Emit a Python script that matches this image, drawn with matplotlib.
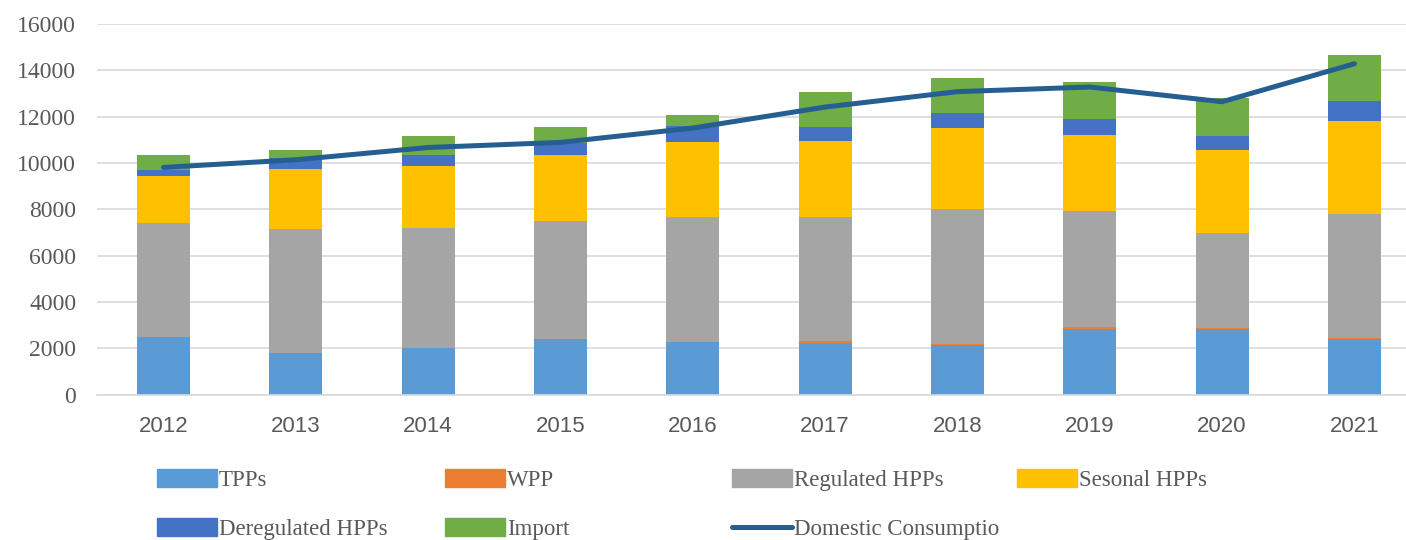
import numpy as np
import matplotlib.pyplot as plt
from matplotlib.patches import Patch
from matplotlib.lines import Line2D

years = ['2012', '2013', '2014', '2015', '2016', '2017', '2018', '2019', '2020', '2021']
tpps = [2480, 1790, 2030, 2390, 2260, 2250, 2130, 2850, 2820, 2390]
wpp = [0, 0, 0, 0, 0, 80, 70, 75, 70, 70]
regulated = [4925, 5380, 5170, 5125, 5400, 5360, 5820, 5000, 4105, 5330]
seasonal = [2045, 2580, 2690, 2825, 3255, 3270, 3470, 3295, 3560, 4030]
deregulated = [260, 450, 475, 520, 680, 590, 665, 660, 605, 835]
imports = [620, 360, 810, 690, 470, 1495, 1510, 1630, 1625, 2020]
consumption = [9810, 10140, 10670, 10890, 11510, 12415, 13080, 13280, 12645, 14285]

names = ['TPPs', 'WPP', 'Regulated HPPs', 'Sesonal HPPs', 'Deregulated HPPs', 'Import']
colors = ['#5B9BD5', '#ED7D31', '#A5A5A5', '#FFC000', '#4472C4', '#70AD47']
line_color = '#255E91'

fig = plt.figure(figsize=(14.06, 5.4), dpi=100)
ax = fig.add_axes([97/1406, 1-394.7/540, 1-97/1406, (394.7-24)/540])

x = np.arange(len(years))
bottom = np.zeros(len(years))
series = [tpps, wpp, regulated, seasonal, deregulated, imports]
for vals, c in zip(series, colors):
    ax.bar(x, vals, 0.4, bottom=bottom, color=c, zorder=2)
    bottom += np.array(vals)

ax.plot(x, consumption, color=line_color, lw=3.6, solid_capstyle='round', zorder=3)

ax.set_ylim(0, 16000)
ax.set_yticks(np.arange(0, 16001, 2000))
ax.set_xlim(-0.503, 9.39)
ax.set_xticks(x)
ax.set_xticklabels(years, family='Liberation Sans', fontsize=16, color='#595959')
for lab in ax.get_yticklabels():
    lab.set_family('Liberation Serif')
    lab.set_fontsize(17)
    lab.set_color('#595959')
ax.tick_params(axis='y', length=0, pad=15)
ax.tick_params(axis='x', length=0, pad=15)
ax.grid(axis='y', color='#D9D9D9', lw=1.2, zorder=0)
for s in ['top', 'right', 'left']:
    ax.spines[s].set_visible(False)
ax.spines['bottom'].set_color('#D9D9D9')
ax.spines['bottom'].set_linewidth(1.2)

# legend, one column at a time so the columns sit where they do in the original
handles = [Patch(color=c) for c in colors]
handles.append(Line2D([], [], color=line_color, lw=3.6, solid_capstyle='round'))
labels = names + ['Domestic Consumptio']
cols = [[0, 4], [1, 5], [2, 6], [3]]
col_x = [157, 445, 732, 1017]
for idx, cx in zip(cols, col_x):
    fig.legend([handles[i] for i in idx], [labels[i] for i in idx],
               loc='upper left', bbox_to_anchor=(cx/1406, 1-469/540),
               frameon=False, borderpad=0, borderaxespad=0,
               handlelength=2.6, handleheight=0.8, handletextpad=0.1,
               labelspacing=1.2,
               prop={'family': 'Liberation Serif', 'size': 16.5}, labelcolor='#595959')

plt.savefig('out.png', dpi=100)
